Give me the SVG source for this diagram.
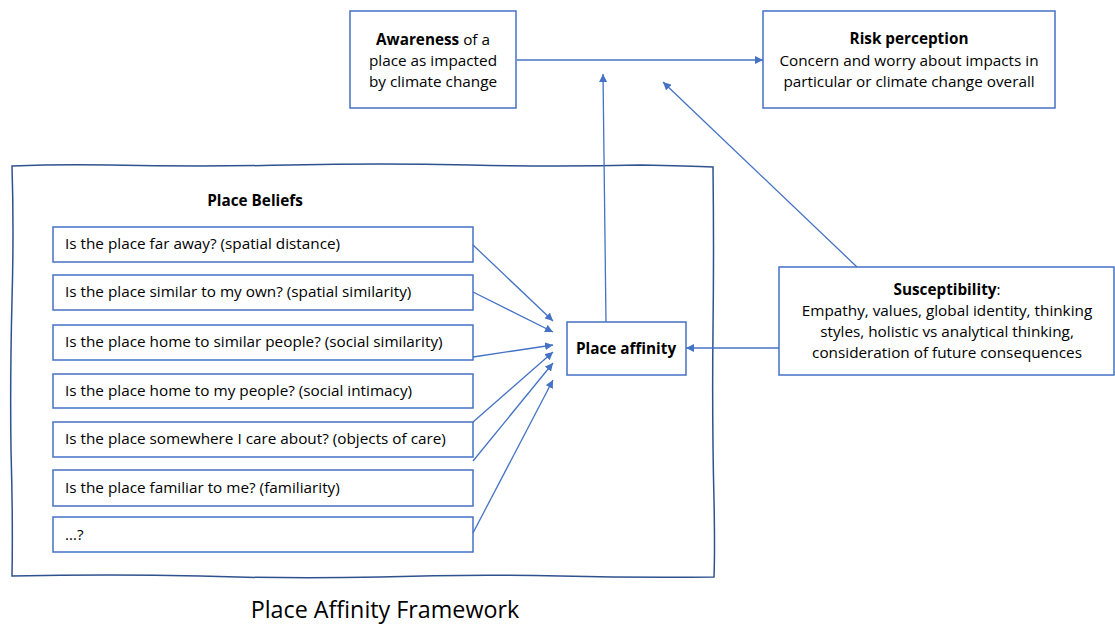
<svg xmlns="http://www.w3.org/2000/svg" width="1115" height="624" viewBox="0 0 1115 624">
<defs>
<style>
.box{fill:#fff;stroke:#4472C4;stroke-width:1.5}
.frame{fill:none;stroke:#2F528F;stroke-width:1.5}
.t{font-family:"Open Sans","Liberation Sans",sans-serif;font-size:15.3px;fill:#000}
.c{text-anchor:middle}
.b{font-weight:bold}
.conn{stroke:#4472C4;stroke-width:1.3;fill:none;marker-end:url(#ah)}
</style>
<marker id="ah" viewBox="0 0 10 10" refX="10" refY="5" markerWidth="8" markerHeight="8" markerUnits="userSpaceOnUse" orient="auto">
<path d="M0,0 L10,5 L0,10 z" fill="#4472C4"/>
</marker>
</defs>
<rect width="1115" height="624" fill="#fff"/>
<g id="frame">
<path class="frame" d="M12,166 Q60,164 110,165 Q200,167 290,165 Q380,163 470,165 Q560,167 640,165 Q690,166 713,167 Q714,250 713,330 Q712,420 714,500 Q715,550 714,577 Q640,578 560,576 Q470,574 380,577 Q290,579 200,576 Q110,574 12,576 Q13,520 11,450 Q10,380 12,300 Q14,230 12,166 Z"/>
<text class="t c b" x="255" y="206">Place Beliefs</text>
</g>
<g id="awareness">
<rect class="box" x="350" y="11" width="166" height="97"/>
<text class="t c" x="433" y="45"><tspan class="b">Awareness</tspan> of a</text>
<text class="t c" x="433" y="66">place as impacted</text>
<text class="t c" x="433" y="87">by climate change</text>
</g>
<g id="risk">
<rect class="box" x="763" y="11" width="292" height="97"/>
<text class="t c b" x="909" y="44">Risk perception</text>
<text class="t c" x="909" y="66">Concern and worry about impacts in</text>
<text class="t c" x="909" y="87">particular or climate change overall</text>
</g>
<g id="belief1"><rect class="box" x="53" y="227" width="420" height="35"/><text class="t" x="65" y="249">Is the place far away? (spatial distance)</text></g>
<g id="belief2"><rect class="box" x="53" y="275" width="420" height="35"/><text class="t" x="65" y="297">Is the place similar to my own? (spatial similarity)</text></g>
<g id="belief3"><rect class="box" x="53" y="325" width="420" height="35"/><text class="t" x="65" y="347">Is the place home to similar people? (social similarity)</text></g>
<g id="belief4"><rect class="box" x="53" y="374" width="420" height="34"/><text class="t" x="65" y="396">Is the place home to my people? (social intimacy)</text></g>
<g id="belief5"><rect class="box" x="53" y="422" width="420" height="35"/><text class="t" x="65" y="444">Is the place somewhere I care about? (objects of care)</text></g>
<g id="belief6"><rect class="box" x="53" y="470" width="420" height="36"/><text class="t" x="65" y="493">Is the place familiar to me? (familiarity)</text></g>
<g id="belief7"><rect class="box" x="53" y="517" width="420" height="35"/><text class="t" x="65" y="540">…?</text></g>
<g id="affinity">
<rect class="box" x="567" y="322" width="119" height="53"/>
<text class="t c b" x="626" y="354">Place affinity</text>
</g>
<g id="susceptibility">
<rect class="box" x="779" y="267" width="335" height="108"/>
<text class="t c" x="947" y="295"><tspan class="b">Susceptibility</tspan>:</text>
<text class="t c" x="947" y="316">Empathy, values, global identity, thinking</text>
<text class="t c" x="947" y="337">styles, holistic vs analytical thinking,</text>
<text class="t c" x="947" y="358">consideration of future consequences</text>
</g>
<g id="connectors">
<path class="conn" d="M517,60 L763,60"/>
<path class="conn" d="M606,322 L603,74"/>
<path class="conn" d="M857,267 L663,82"/>
<path class="conn" d="M779,348 L686,348"/>
<path class="conn" d="M473,245 L553,321"/>
<path class="conn" d="M473,292 L553,332"/>
<path class="conn" d="M473,357 L553,345"/>
<path class="conn" d="M473,422 L553,352"/>
<path class="conn" d="M473,461 L553,363"/>
<path class="conn" d="M473,533 L553,380"/>
</g>
<g id="title">
<text font-family="'Open Sans','Liberation Sans',sans-serif" font-size="23.3" text-anchor="middle" x="385" y="618">Place Affinity Framework</text>
</g>
</svg>
